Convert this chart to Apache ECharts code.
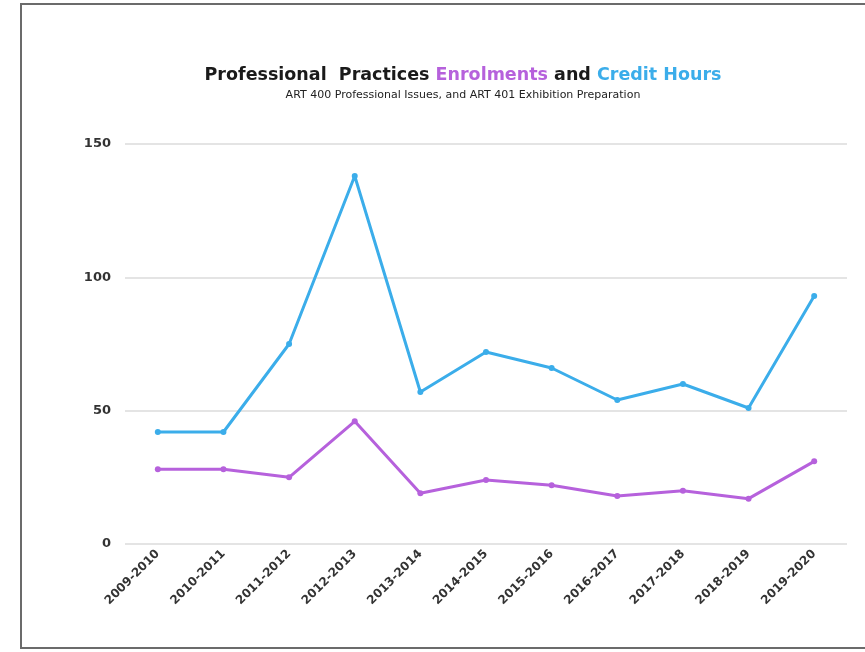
<!DOCTYPE html>
<html lang="en">
<head>
    <meta charset="UTF-8">
    <title>Professional Practices Enrolments and Credit Hours</title>
    <script src="https://cdn.jsdelivr.net/npm/echarts@6/dist/echarts.min.js"></script>
    <style>
        html, body { margin: 0; padding: 0; background: #fff; }
        #main { width: 865px; height: 652px; }
    </style>
</head>
<body>
<div id="main"></div>
<script>
    // data
    const years = ['2009-2010', '2010-2011', '2011-2012', '2012-2013', '2013-2014', '2014-2015',
        '2015-2016', '2016-2017', '2017-2018', '2018-2019', '2019-2020'];
    const creditHours = [42, 42, 75, 138, 57, 72, 66, 54, 60, 51, 93];
    const enrolments = [28, 28, 25, 46, 19, 24, 22, 18, 20, 17, 31];
    const yTicks = [0, 50, 100, 150];

    const blue = '#3badea';
    const purple = '#b661dc';

    const chart = echarts.init(document.getElementById('main'));
    chart.setOption({
        animation: false,
        title: {
            text: '{k|Professional  Practices }{p|Enrolments}{k| and }{b|Credit Hours}',
            subtext: 'ART 400 Professional Issues, and ART 401 Exhibition Preparation',
            left: 458,
            textAlign: 'center',
            top: 61,
            itemGap: 6,
            textStyle: {
                rich: {
                    k: { fontFamily: 'DejaVu Sans', fontSize: 17.5, fontWeight: 'bold', color: '#1a1a1a' },
                    p: { fontFamily: 'DejaVu Sans', fontSize: 17.5, color: purple },
                    b: { fontFamily: 'DejaVu Sans', fontSize: 17.5, color: blue }
                }
            },
            subtextStyle: { fontFamily: 'DejaVu Sans', fontSize: 11, color: '#222' }
        },
        graphic: [{
            type: 'rect',
            shape: { x: 21, y: 4, width: 900, height: 644 },
            style: { fill: 'none', stroke: '#6b6b6b', lineWidth: 2 },
            silent: true
        }],
        grid: { left: 125, right: 18, top: 144, bottom: 108 },
        xAxis: {
            type: 'category',
            data: years,
            boundaryGap: true,
            axisLine: { show: false },
            axisTick: { show: false },
            axisLabel: {
                rotate: 45,
                margin: 8,
                interval: 0,
                fontFamily: 'DejaVu Sans',
                fontSize: 12,
                fontWeight: 'bold',
                color: '#333',
                padding: [0, 0, 0, 0]
            }
        },
        yAxis: {
            type: 'value',
            min: yTicks[0],
            max: yTicks[yTicks.length - 1],
            interval: 50,
            axisLine: { show: false },
            axisTick: { show: false },
            splitLine: { lineStyle: { color: '#e4e4e4', width: 2 } },
            axisLabel: {
                margin: 14,
                fontFamily: 'DejaVu Sans',
                fontSize: 13,
                fontWeight: 'bold',
                color: '#333'
            }
        },
        series: [
            {
                name: 'Credit Hours',
                type: 'line',
                data: creditHours,
                symbol: 'circle',
                symbolSize: 6,
                lineStyle: { color: blue, width: 3 },
                itemStyle: { color: blue }
            },
            {
                name: 'Enrolments',
                type: 'line',
                data: enrolments,
                symbol: 'circle',
                symbolSize: 6,
                lineStyle: { color: purple, width: 3 },
                itemStyle: { color: purple }
            }
        ]
    });
</script>
</body>
</html>
